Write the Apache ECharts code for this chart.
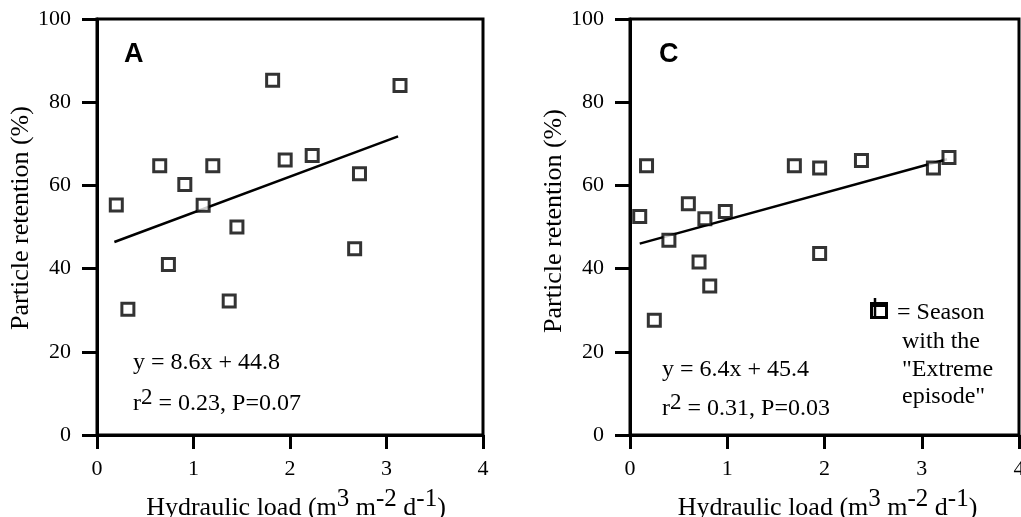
<!DOCTYPE html>
<html>
<head>
<meta charset="utf-8">
<script src="https://cdn.jsdelivr.net/npm/echarts@6/dist/echarts.min.js"></script>
<style>
  html, body { margin: 0; padding: 0; background: #fff; }
  #main { width: 1021px; height: 517px; }
</style>
</head>
<body>
<div id="main"></div>
<script>
// panel A points [hydraulic load, retention %]
const pointsA = [
  [0.20, 55.3], [0.32, 30.2], [0.65, 64.7], [0.74, 41.0], [0.91, 60.2],
  [1.10, 55.2], [1.20, 64.7], [1.37, 32.2], [1.45, 50.0], [1.82, 85.3],
  [1.95, 66.1], [2.23, 67.2], [2.67, 44.8], [2.72, 62.8], [3.14, 84.0]
];
// fitted line A, end points
const fitA = [[0.18, 46.4], [3.12, 71.8]];

// panel C points
const pointsC = [
  [0.10, 52.5], [0.17, 64.7], [0.25, 27.6], [0.40, 46.8], [0.60, 55.6],
  [0.71, 41.6], [0.77, 52.0], [0.82, 35.8], [0.98, 53.7], [1.69, 64.7],
  [1.95, 64.2], [1.95, 43.6], [2.38, 66.0], [3.12, 64.2], [3.28, 66.7]
];
const fitC = [[0.10, 46.0], [3.26, 66.3]];

const xTicks = { min: 0, max: 4, interval: 1 };
const yTicks = { min: 0, max: 100, interval: 20 };

const serif = 'Liberation Serif';

var chartDom = document.getElementById('main');
var myChart = echarts.init(chartDom);
var option;

function xAx(idx) {
  return {
    gridIndex: idx,
    type: 'value',
    min: xTicks.min, max: xTicks.max, interval: xTicks.interval,
    splitLine: { show: false },
    axisLine: { lineStyle: { color: '#000', width: 3 } },
    axisTick: { inside: false, length: 14, lineStyle: { color: '#000', width: 3 } },
    axisLabel: { color: '#000', fontFamily: serif, fontSize: 22, margin: 23 },
    name: 'Hydraulic load (m{s|3} m{s|-2} d{s|-1})',
    nameLocation: 'middle',
    nameGap: 52,
    nameTextStyle: {
      color: '#000', fontFamily: serif, fontSize: 26,
      padding: [0, 0, 0, idx ? 6 : 12],
      rich: { s: { color: '#000', fontFamily: serif, fontSize: 25, padding: [0, 0, 18, 0] } }
    }
  };
}

function yAx(idx) {
  return {
    gridIndex: idx,
    type: 'value',
    min: yTicks.min, max: yTicks.max, interval: yTicks.interval,
    splitLine: { show: false },
    axisLine: { lineStyle: { color: '#000', width: 3 } },
    axisTick: { inside: false, length: 15, lineStyle: { color: '#000', width: 3 } },
    axisLabel: { color: '#000', fontFamily: serif, fontSize: 22, margin: 26 },
    name: 'Particle retention (%)',
    nameLocation: 'middle',
    nameGap: 58,
    nameTextStyle: { color: '#000', fontFamily: serif, fontSize: 26, padding: [0, 0, 0, idx ? 12 : 18] }
  };
}

const squareStyle = { color: '#fff', borderColor: '#000', borderWidth: 3 };

function txt(left, top, text, size, extra) {
  return {
    type: 'text', left: left, top: top,
    style: Object.assign({ text: text, fill: '#000', font: size + 'px "' + serif + '"' }, extra || {})
  };
}

const rich = {
  n: { fontFamily: serif, fontSize: 24, fill: '#000' },
  s: { fontFamily: serif, fontSize: 23, fill: '#000', padding: [0, 0, 12, 0] }
};

option = {
  animation: false,
  grid: [
    { left: 97, right: 538, top: 19, bottom: 82, outerBoundsMode: 'none', show: true, borderColor: '#000', borderWidth: 3 },
    { left: 630, right: 2, top: 19, bottom: 82, outerBoundsMode: 'none', show: true, borderColor: '#000', borderWidth: 3 }
  ],
  xAxis: [xAx(0), xAx(1)],
  yAxis: [yAx(0), yAx(1)],
  series: [
    {
      type: 'line', xAxisIndex: 0, yAxisIndex: 0, data: fitA,
      showSymbol: false, lineStyle: { color: '#000', width: 2.5 }, z: 1
    },
    {
      type: 'scatter', xAxisIndex: 0, yAxisIndex: 0, data: pointsA,
      symbol: 'rect', symbolSize: 12, itemStyle: squareStyle, z: 2
    },
    {
      type: 'line', xAxisIndex: 1, yAxisIndex: 1, data: fitC,
      showSymbol: false, lineStyle: { color: '#000', width: 2.5 }, z: 1
    },
    {
      type: 'scatter', xAxisIndex: 1, yAxisIndex: 1, data: pointsC,
      symbol: 'rect', symbolSize: 12, itemStyle: squareStyle, z: 2
    }
  ],
  graphic: [
    { type: 'text', left: 124, top: 41, style: { text: 'A', fill: '#000', font: 'bold 27px "Liberation Sans"' } },
    { type: 'text', left: 659, top: 41, style: { text: 'C', fill: '#000', font: 'bold 27px "Liberation Sans"' } },
    txt(133, 351, 'y = 8.6x + 44.8', 24),
    { type: 'text', left: 133, top: 386, style: { text: '{n|r}{s|2}{n| = 0.23, P=0.07}', rich: rich } },
    txt(662, 358, 'y = 6.4x + 45.4', 24),
    { type: 'text', left: 662, top: 391, style: { text: '{n|r}{s|2}{n| = 0.31, P=0.03}', rich: rich } },
    // legend note
    { type: 'rect', left: 870, top: 302, shape: { width: 15, height: 14 }, style: { fill: '#fff', stroke: '#000', lineWidth: 3 } },
    { type: 'line', shape: { x1: 875, y1: 298, x2: 875, y2: 316 }, style: { stroke: '#000', lineWidth: 2.5 } },
    { type: 'line', shape: { x1: 870, y1: 306, x2: 886, y2: 306 }, style: { stroke: '#000', lineWidth: 2 } },
    txt(897, 301, '= Season', 24),
    txt(902, 328, 'with the\n"Extreme\nepisode"', 24, { lineHeight: 27.5 })
  ]
};

option && myChart.setOption(option);
</script>
</body>
</html>
